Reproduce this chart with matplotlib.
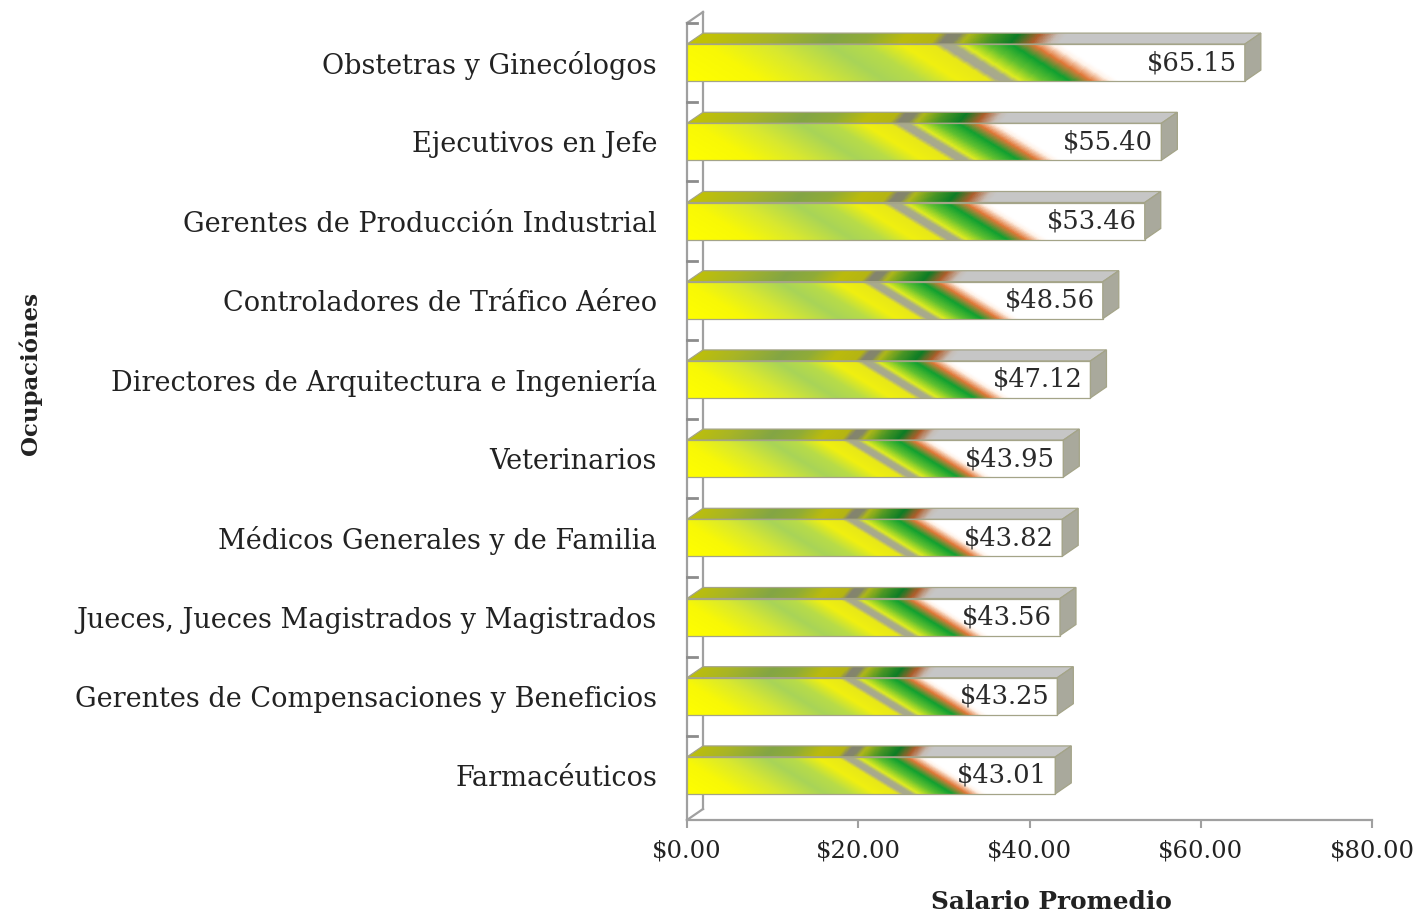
import numpy as np
import matplotlib
matplotlib.use('Agg')
import matplotlib.pyplot as plt
from matplotlib.colors import LinearSegmentedColormap
from matplotlib.patches import Polygon

# ── Data ──────────────────────────────────────────────────────────────────────
ocupaciones = [
    'Obstetras y Ginecólogos',
    'Ejecutivos en Jefe',
    'Gerentes de Producción Industrial',
    'Controladores de Tráfico Aéreo',
    'Directores de Arquitectura e Ingeniería',
    'Veterinarios',
    'Médicos Generales y de Familia',
    'Jueces, Jueces Magistrados y Magistrados',
    'Gerentes de Compensaciones y Beneficios',
    'Farmacéuticos',
]
salarios = [65.15, 55.40, 53.46, 48.56, 47.12, 43.95, 43.82, 43.56, 43.25, 43.01]
x_ticks = [0, 20, 40, 60, 80]

plt.rcParams.update({
    'font.family': 'DejaVu Serif',
    'figure.facecolor': 'white',
    'axes.facecolor': 'white',
})

# ── Layout (pixels of a 1422x914 canvas) ──────────────────────────────────────
W, H = 1422, 914
fig = plt.figure(figsize=(W / 100, H / 100), dpi=100)
ax = fig.add_axes([687 / W, (H - 820) / H, 685 / W, 797 / H])
Y_LO, Y_HI = -0.563, 9.5
ax.set_xlim(0, 80)
ax.set_ylim(Y_LO, Y_HI)

sx = 685 / 80                    # px per x unit
sy = 797 / (Y_HI - Y_LO)         # px per category
BAR_H = 37 / sy
DX, DY = 16 / sx, 11 / sy        # 3D depth offset
K = 1.6                          # slope of the diagonal gradient

grad = LinearSegmentedColormap.from_list('bar', [
    (0.00, '#FFFF00'), (0.12, '#F8F806'), (0.22, '#D8E830'),
    (0.32, '#A8D458'), (0.38, '#B8DC48'), (0.44, '#F0F010'),
    (0.49, '#E8E818'), (0.505, '#A8A890'), (0.525, '#A8AC88'),
    (0.54, '#E0EC20'), (0.58, '#60C030'), (0.62, '#10A030'),
    (0.655, '#E07838'), (0.685, '#FFF2E8'), (0.70, '#FFFFFF'),
    (1.00, '#FFFFFF'),
])

ypos = np.arange(len(ocupaciones))[::-1]
EDGE = '#A4A488'

for v, y in zip(salarios, ypos):
    Lpx, Hpx = v * sx, BAR_H * sy
    y0, y1 = y - BAR_H / 2, y + BAR_H / 2

    # front face
    X, Yg = np.meshgrid(np.linspace(0, Lpx, 500), np.linspace(0, Hpx, 48))
    t = (X + K * Yg) / (Lpx + K * Hpx)
    ax.imshow(grad(t)[..., :3], extent=(0, v, y0, y1), origin='lower',
              aspect='auto', interpolation='bilinear', zorder=3)
    ax.add_patch(Polygon([(0, y0), (v, y0), (v, y1), (0, y1)], closed=True,
                         fill=False, edgecolor=EDGE, lw=0.9, zorder=4))

    # top face
    top = Polygon([(0, y1), (v, y1), (v + DX, y1 + DY), (DX, y1 + DY)],
                  closed=True, facecolor='none', edgecolor=EDGE, lw=0.9,
                  zorder=4, clip_on=False)
    ax.add_patch(top)
    Xt, D = np.meshgrid(np.linspace(0, (v + DX) * sx, 500), np.linspace(0, 1, 12))
    xf = Xt - D * DX * sx
    tt = (xf + K * Hpx + K * 0.4 * D * DY * sy) / (Lpx + K * Hpx)
    img = ax.imshow(grad(tt)[..., :3] * 0.78, extent=(0, v + DX, y1, y1 + DY),
                    origin='lower', aspect='auto', interpolation='bilinear',
                    zorder=3)
    img.set_clip_path(top)

    # right face
    ax.add_patch(Polygon([(v, y0), (v, y1), (v + DX, y1 + DY), (v + DX, y0 + DY)],
                         closed=True, facecolor='#A9A99C', edgecolor=EDGE,
                         lw=0.9, zorder=4, clip_on=False))

    ax.text(v - 8 / sx, y, f'${v:.2f}', ha='right', va='center',
            fontsize=18.5, color='#2a2a2a', zorder=6)

# ── Wall ──────────────────────────────────────────────────────────────────────
wall = dict(color='#A0A0A0', lw=1.6, clip_on=False, zorder=2)
ax.plot([0, 0], [Y_LO, Y_HI], **wall)
ax.plot([DX, DX], [Y_LO + DY, Y_HI + DY], **wall)
ax.plot([0, DX], [Y_HI, Y_HI + DY], **wall)
ax.plot([0, DX], [Y_LO, Y_LO + DY], **wall)
for b in np.arange(len(ocupaciones)) + 0.5:
    ax.plot([0, 10 / sx], [b, b], color='#8C8C8C', lw=2, clip_on=False, zorder=2)

# ── Axes styling ──────────────────────────────────────────────────────────────
ax.set_xticks(x_ticks, [f'${v:.2f}' for v in x_ticks])
ax.set_yticks(ypos, ocupaciones)
ax.tick_params(axis='x', length=6, width=1.5, color='#A0A0A0', pad=8,
               labelsize=17.5, labelcolor='#222222')
ax.tick_params(axis='y', length=0, pad=21.6, labelsize=19.5, labelcolor='#222222')
for s in ['top', 'right', 'left']:
    ax.spines[s].set_visible(False)
ax.spines['bottom'].set_color('#A0A0A0')
ax.spines['bottom'].set_linewidth(1.6)

fig.text(30 / W, 1 - 373 / H, 'Ocupaciónes', rotation=90, ha='center',
         va='center', fontsize=16.5, fontweight='bold', color='#222222')
fig.text(1051 / W, 1 - 902 / H, 'Salario Promedio', ha='center', va='center',
         fontsize=17.8, fontweight='bold', color='#222222')

fig.savefig('out.png', dpi=100, facecolor='white')
